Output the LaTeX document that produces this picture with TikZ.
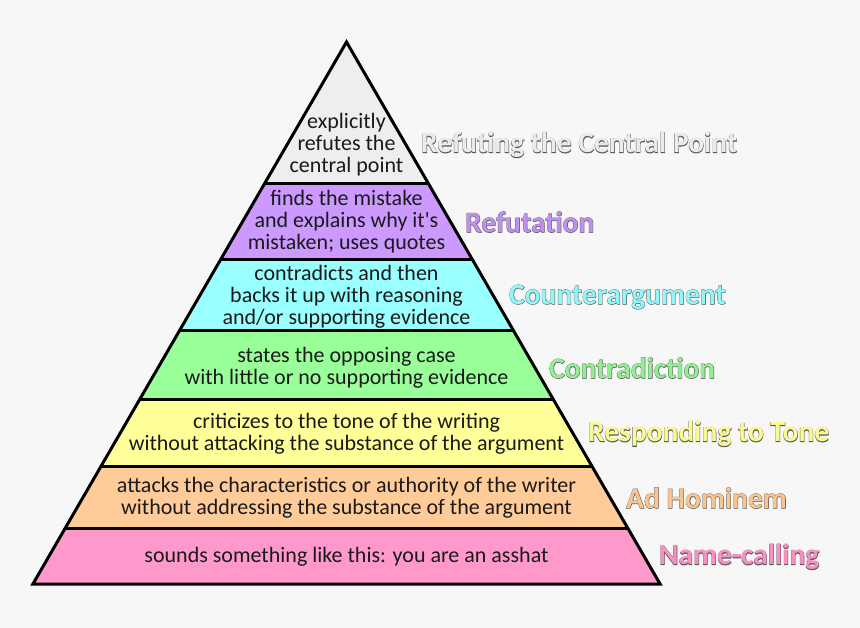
\documentclass[tikz,border=0pt]{standalone}
\usepackage{fontspec}
\setmainfont{Carlito}[Ligatures=TeXOff]
\newfontfamily\labout{Carlito Bold}[FakeBold=2.5]
\newfontfamily\labin{Carlito Bold}
\definecolor{bg}{HTML}{F7F7F7}
\definecolor{cgray}{HTML}{EEEEEE}
\definecolor{cpurple}{HTML}{CC99FF}
\definecolor{ccyan}{HTML}{99FFFF}
\definecolor{cgreen}{HTML}{99FF99}
\definecolor{cyellow}{HTML}{FFFF99}
\definecolor{corange}{HTML}{FFCC99}
\definecolor{cpink}{HTML}{FF99CC}
\definecolor{lgray}{HTML}{EBEBEB}
\definecolor{lpurple}{HTML}{C090F0}
\definecolor{lcyan}{HTML}{90F8F8}
\definecolor{lgreen}{HTML}{90F090}
\definecolor{lyellow}{HTML}{FAFA90}
\definecolor{lorange}{HTML}{FAC490}
\definecolor{lpink}{HTML}{F890C4}
\definecolor{outl}{HTML}{5A5A5A}
\definecolor{txt}{HTML}{1A1A1A}
\newcommand\pyrlayer[3]{\fill[#3] ({346.5-0.5786*(#1-42)},#1) -- ({346.5+0.5786*(#1-42)},#1) -- ({346.5+0.5786*(#2-42)},#2) -- ({346.5-0.5786*(#2-42)},#2) -- cycle;}
\newcommand\pyrline[1]{\draw[sepline] ({346.5-0.5786*(#1-42)},#1) -- ({346.5+0.5786*(#1-42)},#1);}
\newcommand\lbl[2]{\rlap{\textcolor{outl}{\labout #2}}\textcolor{#1}{\labin #2}}
\begin{document}
\begin{tikzpicture}[x=1pt,y=-1pt,
  sepline/.style={line width=3pt,black},
  body/.style={align=center,text=txt,font=\fontsize{22}{22}\selectfont,inner sep=0pt},
  lab/.style={anchor=west,font=\fontsize{29.5}{30}\selectfont,inner sep=0pt}]
\fill[bg] (0,0) rectangle (860,628);
\useasboundingbox (0,0) rectangle (860,628);
\pyrlayer{42}{184}{cgray}
\pyrlayer{184}{260}{cpurple}
\pyrlayer{260}{331}{ccyan}
\pyrlayer{331}{400}{cgreen}
\pyrlayer{400}{466}{cyellow}
\pyrlayer{466}{528}{corange}
\pyrlayer{528}{584}{cpink}
\pyrline{184}
\pyrline{260}
\pyrline{331}
\pyrline{400}
\pyrline{466}
\pyrline{528}
\draw[line width=3pt,line join=miter] (346.5,42) -- ({346.5+0.5786*542},584) -- ({346.5-0.5786*542},584) -- cycle;
\node[body] (t1) at (346.5,145) {explicitly\\refutes the\\central point};
\node[body] (t2) at (346.5,222) {finds the mistake\\and explains why it's\\mistaken; uses quotes};
\node[body] (t3) at (346.5,297) {contradicts and then\\backs it up with reasoning\\and/or supporting evidence};
\node[body] (t4) at (346.5,368) {states the opposing case\\with little or no supporting evidence};
\node[body] (t5) at (346.5,434) {criticizes to the tone of the writing\\without attacking the substance of the argument};
\node[body] (t6) at (346.5,498) {attacks the characteristics or authority of the writer\\without addressing the substance of the argument};
\node[body] (t7) at (346.5,557) {sounds something like this: you are an asshat};
\node[lab] (l1) at (421,145) {\lbl{lgray}{Refuting the Central Point}};
\node[lab] (l2) at (465,222) {\lbl{lpurple}{Refutation}};
\node[lab] (l3) at (509,297) {\lbl{lcyan}{Counterargument}};
\node[lab] (l4) at (549,368) {\lbl{lgreen}{Contradiction}};
\node[lab] (l5) at (588,434) {\lbl{lyellow}{Responding to Tone}};
\node[lab] (l6) at (626,498) {\lbl{lorange}{Ad Hominem}};
\node[lab] (l7) at (659,557) {\lbl{lpink}{Name-calling}};
\end{tikzpicture}
\end{document}
